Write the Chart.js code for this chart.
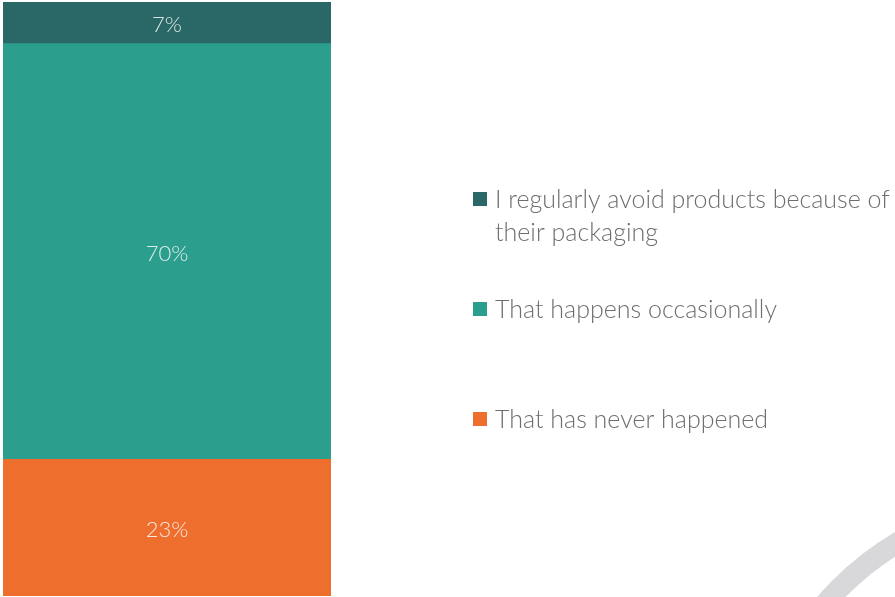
<!DOCTYPE html>
<html>
<head>
<meta charset="utf-8">
<script src="https://cdn.jsdelivr.net/npm/chart.js@4"></script>
<style>
  html, body { margin: 0; padding: 0; background: #ffffff; }
  #wrap { width: 895px; height: 597px; position: relative; }
</style>
</head>
<body>
<div id="wrap"><canvas id="packaging_chart"></canvas></div>
<script>
// stacked from the bottom up
var answers = [
  'That has never happened',
  ['That happens occasionally'],
  ['I regularly avoid products because of', 'their packaging']
];
var shares = [23, 70, 7];
var colours = ['#ee6e2e', '#2c9e8d', '#2a6867'];
var categories = [''];

var FONT = '"Lato", "Open Sans", sans-serif';

// percent labels in the middle of each segment
const segmentLabels = {
  id: 'segmentLabels',
  afterDatasetsDraw(chart) {
    const ctx = chart.ctx;
    ctx.save();
    ctx.font = '300 22px ' + FONT;
    ctx.fillStyle = 'rgba(255,255,255,0.82)';
    ctx.textAlign = 'center';
    ctx.textBaseline = 'middle';
    chart.data.datasets.forEach(function(ds, i) {
      chart.getDatasetMeta(i).data.forEach(function(bar, j) {
        const mid = (bar.y + bar.base) / 2 + 2;
        ctx.fillText(ds.data[j] + '%', bar.x, mid);
      });
    });
    ctx.restore();
  }
};

// legend on the right, top segment listed first
const sideLegend = {
  id: 'sideLegend',
  afterDraw(chart) {
    const ctx = chart.ctx;
    const boxX = 473, textX = 495, box = 14, lineH = 33, step = 110;
    let y = 199;
    ctx.save();
    ctx.font = '300 25px ' + FONT;
    ctx.textBaseline = 'middle';
    ctx.textAlign = 'left';
    chart.data.datasets.slice().reverse().forEach(function(ds) {
      const lines = Array.isArray(ds.label) ? ds.label : [ds.label];
      ctx.fillStyle = ds.backgroundColor;
      ctx.fillRect(boxX, y - box / 2, box, box);
      ctx.fillStyle = '#6e6e6e';
      lines.forEach(function(t, k) {
        ctx.fillText(t, textX, y + k * lineH + 1);
      });
      y += step;
    });
    // grey ring in the corner
    ctx.beginPath();
    ctx.strokeStyle = '#d8d8da';
    ctx.lineWidth = 21;
    ctx.arc(1052, 800, 300, Math.PI, Math.PI * 1.6);
    ctx.stroke();
    ctx.restore();
  }
};

const packaging_chart = document.querySelector('#packaging_chart').getContext('2d');

let chart = new Chart(packaging_chart, {
  type: 'bar',
  data: {
    labels: categories,
    datasets: answers.map(function(a, i) {
      return {
        label: a,
        data: [shares[i]],
        backgroundColor: colours[i],
        borderWidth: 0,
        barPercentage: 1,
        categoryPercentage: 1
      };
    })
  },
  options: {
    responsive: true,
    maintainAspectRatio: false,
    animation: false,
    layout: { padding: { left: 3, right: 564, top: 2, bottom: 1 } },
    plugins: {
      legend: { display: false },
      tooltip: { enabled: false }
    },
    scales: {
      x: { stacked: true, display: false },
      y: { stacked: true, display: false, min: 0, max: 100 }
    }
  },
  plugins: [segmentLabels, sideLegend]
});
</script>
</body>
</html>
